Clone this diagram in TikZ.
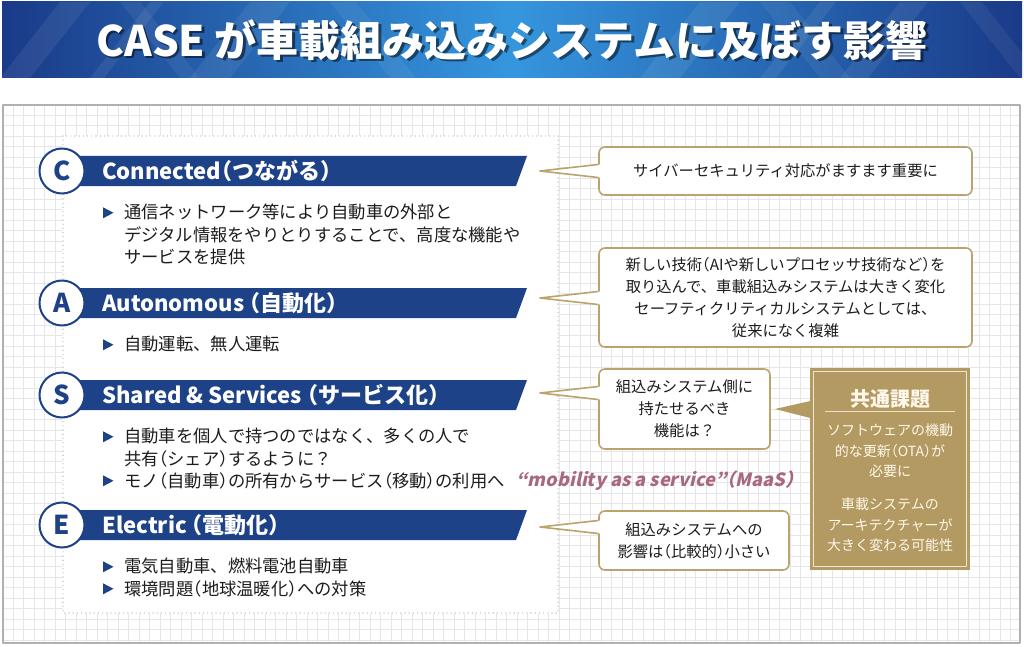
\documentclass[tikz,border=0pt]{standalone}
\usepackage{fontspec}
\setmainfont{Noto Sans CJK JP}
\newfontfamily\maasfont{Noto Sans CJK JP}[FakeSlant=0.22, RawFeature=+halt]
\newcommand\lp{{\addfontfeature{RawFeature=+halt}（}}
\newcommand\rp{{\addfontfeature{RawFeature=+halt}）}}
\newcommand\qm{{\addfontfeature{RawFeature=+halt}？}}
\usetikzlibrary{calc}
\definecolor{headdark}{HTML}{1A3A88}
\definecolor{headlight}{HTML}{3596DE}
\definecolor{caseblue}{HTML}{1E4288}
\definecolor{gridgray}{HTML}{E6E6EA}
\definecolor{panelgray}{HTML}{B0B0B0}
\definecolor{dotgray}{HTML}{9A9A9A}
\definecolor{calloutgold}{HTML}{BBA36E}
\definecolor{issuegold}{HTML}{B39A63}
\definecolor{issuetext}{HTML}{FFF8EA}
\definecolor{maasrose}{HTML}{A8687E}
\definecolor{bodytext}{HTML}{1C1C1C}

\tikzset{
    lettercircle/.style={circle, draw=caseblue, line width=2pt, fill=white,
        minimum size=45pt, inner sep=0pt, text=caseblue,
        font=\bfseries\fontsize{26}{26}\selectfont},
    bandtext/.style={anchor=west, inner sep=0pt, text=white,
        font=\bfseries\fontsize{22}{24}\selectfont},
    bullettext/.style={anchor=north west, inner sep=0pt, align=left, text=bodytext,
        font=\fontsize{17.3}{22.5}\selectfont},
    callout/.style={draw=calloutgold, line width=1.6pt, fill=white, rounded corners=6pt,
        align=center, inner sep=0pt, text=bodytext, font=\fontsize{15.3}{22}\selectfont},
    tailline/.style={calloutgold, line width=1.6pt},
    issuenote/.style={align=center, inner sep=0pt, text=issuetext,
        font=\fontsize{14}{20.5}\selectfont}
}

\begin{document}
\begin{tikzpicture}[
    x=1pt, y=-1pt,
    line join=round
]
    \useasboundingbox (0,0) rectangle (1024,647);

    % Title banner
    \shade[left color=headdark, right color=headdark, middle color=headlight] (2,2) rectangle (1022,78);
    \foreach \sx/\sw in {60/30, 150/14, 250/40, 700/40, 820/16, 900/28} {
        \fill[white, opacity=0.07] (\sx,2) -- ++(\sw,0) -- ++(-60,76) -- ++(-\sw,0) -- cycle;
    }
    \foreach \sx/\sw in {120/20, 330/26, 760/30, 960/22} {
        \fill[white, opacity=0.06] (\sx,2) -- ++(\sw,0) -- ++(60,76) -- ++(-\sw,0) -- cycle;
    }
    \node[text=black, opacity=0.5, font=\bfseries\fontsize{42}{42}\selectfont] (titleshadow) at (514.5,42.5) {CASE が車載組み込みシステムに及ぼす影響};
    \node[text=white, font=\bfseries\fontsize{42}{42}\selectfont] (title) at (512,40) {CASE が車載組み込みシステムに及ぼす影響};

    % Grid panel
    \fill[white] (3,105) rectangle (1020,643);
    \foreach \gx in {13, 23.5, ..., 1020} {
        \draw[gridgray, line width=0.6pt] (\gx,105) -- (\gx,643);
    }
    \foreach \gy in {115, 125.5, ..., 643} {
        \draw[gridgray, line width=0.6pt] (3,\gy) -- (1020,\gy);
    }
    \draw[panelgray, line width=1.5pt] (3,105) rectangle (1020,643);

    % Dotted CASE box
    \draw[dotgray, fill=white, line width=1.1pt, line cap=round, dash pattern=on 0pt off 4.2pt] (63,136) rectangle (558,613);

    % Bands and letters
    \foreach \name/\yc in {C/171, A/303, S/395, E/525} {
        \fill[caseblue] (62,\yc-15) -- (527,\yc-15) -- (516,\yc+15) -- (62,\yc+15) -- cycle;
        \node[lettercircle] (circ\name) at (62,\yc) {\name};
    }
    \node[bandtext] (bandC) at (102,171) {Connected\lp つながる\rp};
    \node[bandtext] (bandA) at (102,303) {Autonomous \lp 自動化\rp};
    \node[bandtext] (bandS) at (102,395) {Shared \& Services \lp サービス化\rp};
    \node[bandtext] (bandE) at (102,525) {Electric \lp 電動化\rp};

    % Bullet texts
    \node[bullettext] (bulC) at (124,204) {通信ネットワーク等により自動車の外部と\\デジタル情報をやりとりすることで、高度な機能や\\サービスを提供};
    \node[bullettext] (bulA) at (124,336) {自動運転、無人運転};
    \node[bullettext] (bulSa) at (124,428) {自動車を個人で持つのではなく、多くの人で\\共有\lp シェア\rp するように\qm};
    \node[bullettext] (bulSb) at (124,472) {モノ\lp 自動車\rp の所有からサービス\lp 移動\rp の利用へ};
    \node[bullettext] (bulEa) at (124,558) {電気自動車、燃料電池自動車};
    \node[bullettext] (bulEb) at (124,580) {環境問題\lp 地球温暖化\rp への対策};
    \node[anchor=west, inner sep=0pt, text=maasrose, font=\maasfont\bfseries\fontsize{18.2}{22}\selectfont] (maas) at (516,481) {“mobility as a service”（MaaS）};
    \foreach \b in {bulC, bulA, bulSa, bulSb, bulEa, bulEb} {
        \fill[caseblue] ($(\b.north west)+(-21,3.3)$) -- ++(10.5,5.5) -- ++(-10.5,5.5) -- cycle;
    }

    % Callouts
    \node[callout, minimum width=373pt, minimum height=48pt] (noteC) at (785.5,171) {サイバーセキュリティ対応がますます重要に};
    \node[callout, minimum width=373pt, minimum height=99pt] (noteA) at (785.5,297.5) {新しい技術\lp AIや新しいプロセッサ技術など\rp を\\取り込んで、車載組込みシステムは大きく変化\\セーフティクリティカルシステムとしては、\\従来になく複雑};
    \node[callout, minimum width=171pt, minimum height=80pt] (noteS) at (684.5,409) {組込みシステム側に\\持たせるべき\\機能は\qm};
    \node[callout, minimum width=190pt, minimum height=59pt] (noteE) at (694,540.5) {組込みシステムへの\\影響は\lp 比較的\rp 小さい};

    % Callout tails
    \foreach \n/\ty in {C/171, A/298, S/393, E/527} {
        \coordinate (tip\n) at (540,\ty);
        \fill[white] ($(note\n.west |- tip\n)+(1.6,-6.5)$) -- (tip\n) -- ($(note\n.west |- tip\n)+(1.6,6.5)$) -- cycle;
        \draw[tailline] ($(note\n.west |- tip\n)+(0,-6.5)$) -- (tip\n) -- ($(note\n.west |- tip\n)+(0,6.5)$);
    }

    % Common issue box
    \node[fill=issuegold, minimum width=160pt, minimum height=202pt, inner sep=0pt] (issue) at (890,469) {};
    \draw[issuetext!80!issuegold, line width=0.8pt] ($(issue.north west)+(3.5,3.5)$) rectangle ($(issue.south east)+(-3.5,-3.5)$);
    \coordinate (issuetip) at (775,409);
    \fill[issuegold] (issuetip) -- ($(issue.west |- issuetip)+(0.5,-8)$) -- ($(issue.west |- issuetip)+(0.5,9)$) -- cycle;
    \node[text=issuetext, inner sep=0pt, font=\bfseries\fontsize{20}{20}\selectfont] (issuehead) at (890,399) {共通課題};
    \draw[issuetext!75!issuegold, line width=0.8pt] ($(issue.north west)+(15,44)$) -- ($(issue.north east)+(-15,44)$);
    \node[issuenote] (issueota) at (890,451) {ソフトウェアの機動\\的な更新\lp OTA\rp が\\必要に};
    \node[issuenote] (issuearch) at (890,525) {車載システムの\\アーキテクチャーが\\大きく変わる可能性};

\end{tikzpicture}
\end{document}
